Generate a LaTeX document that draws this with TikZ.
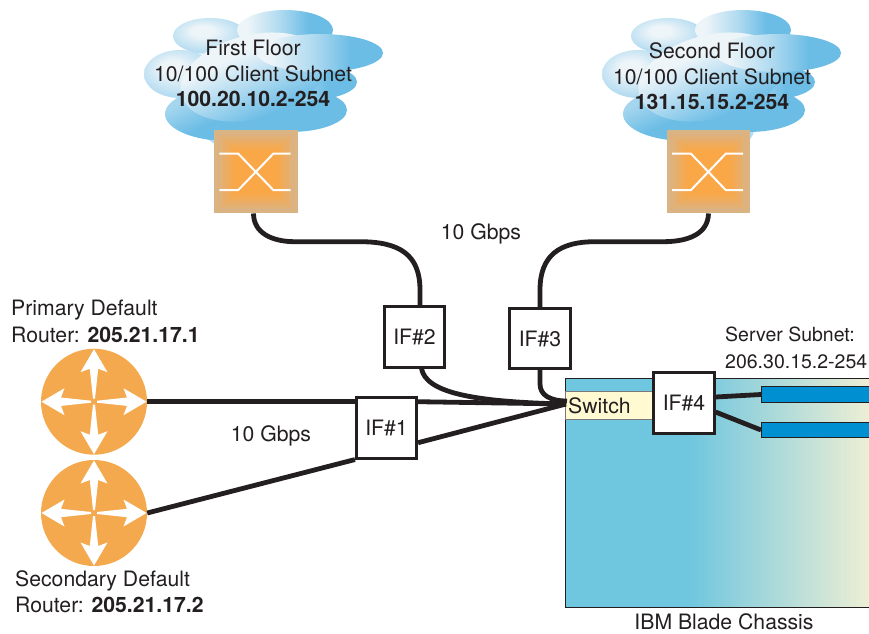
\documentclass[tikz,border=0pt]{standalone}
\usepackage{fontspec}
\setmainfont{TeX Gyre Heros}
\definecolor{ink}{HTML}{231F20}
\definecolor{cloudblue}{HTML}{6CBDE6}
\definecolor{cloudlight}{HTML}{EEF5F9}
\definecolor{tan}{HTML}{D9B485}
\definecolor{swcore}{HTML}{FAA748}
\definecolor{routerfill}{HTML}{F4A94F}
\definecolor{chassisblue}{HTML}{6EC6DF}
\definecolor{chassisbeige}{HTML}{EFEFD4}
\definecolor{bandyellow}{HTML}{FFFAD2}
\definecolor{barblue}{HTML}{0090D2}
\pgfdeclarehorizontalshading{chassisshade}{100bp}{color(0bp)=(chassisblue); color(45bp)=(chassisblue); color(75bp)=(chassisbeige); color(100bp)=(chassisbeige)}
\pgfdeclarehorizontalshading{cloudaxis}{100bp}{color(0bp)=(cloudlight); color(30bp)=(cloudlight); color(48bp)=(cloudlight!50!cloudblue); color(62bp)=(cloudblue); color(100bp)=(cloudblue)}
\pgfdeclarehorizontalshading{cloudmain}{100bp}{color(0bp)=(cloudlight); color(36bp)=(cloudlight); color(50bp)=(cloudlight!55!cloudblue); color(66bp)=(cloudblue); color(100bp)=(cloudblue)}
\pgfdeclarehorizontalshading{cloudsoft}{100bp}{color(0bp)=(cloudlight!45!cloudblue); color(30bp)=(cloudlight!45!cloudblue); color(50bp)=(cloudblue); color(100bp)=(cloudblue)}
\pgfdeclareradialshading{cloudhi}{\pgfpoint{-6bp}{8bp}}{color(0bp)=(cloudlight); color(7bp)=(cloudlight); color(40bp)=(cloudlight!25!cloudblue); color(50bp)=(cloudblue)}
\tikzset{
  x=1pt,y=-1pt,
  puff/.style={shading=cloudaxis,shading angle=0},
  puffhi/.style={shading=cloudhi},
  puffdown/.style={shading=cloudsoft,shading angle=-65},
  puffmain/.style={shading=cloudmain,shading angle=-65},
  lbl/.style={text=ink,font=\fontsize{21.2}{25}\selectfont,inner sep=0pt},
  lblleft/.style={lbl,anchor=west},
  lblsmall/.style={lblleft,font=\fontsize{19.5}{23}\selectfont},
  ifbox/.style={draw=ink,line width=2.6pt,fill=white,minimum size=60.5pt,inner sep=0pt,text=ink,font=\fontsize{21.2}{25}\selectfont},
  swbox/.style={fill=tan,minimum size=83.5pt,inner sep=0pt},
  router/.style={circle,fill=routerfill,minimum size=106pt,inner sep=0pt},
  cable/.style={draw=ink,line width=4.8pt},
  cross/.style={draw=white,line width=2pt},
  bar/.style={draw=ink,line width=0.8pt,fill=barblue,minimum height=15.5pt,minimum width=110pt,inner sep=0pt,anchor=west},
}
\newcommand{\cloudpuffs}{%
  \shade[puffhi] (250,130) ellipse [x radius=46,y radius=22];
  \shade[puffhi] (210,36) ellipse [x radius=37,y radius=18];
  \shade[puff] (285,30) ellipse [x radius=48,y radius=20];
  \shade[puffdown] (290,110) ellipse [x radius=57,y radius=22];
  \shade[puff] (300,82) ellipse [x radius=57,y radius=19];
  \shade[puffhi] (180,74) ellipse [x radius=36,y radius=24];
  \shade[puffdown] (228,114) ellipse [x radius=63,y radius=27];
  \shade[puffmain,rotate around={14:(253,77)}] (253,77) ellipse [x radius=74,y radius=42];
  \shade[puff] (320,53) ellipse [x radius=63,y radius=19];
}
\newcommand{\swcoreat}[1]{%
  \foreach \s/\m in {39/8,36/24,33/42,30/60,27/78,24/92,21/100}{
    \fill[swcore!\m!tan] ([xshift=-\s pt,yshift=-\s pt]#1.center) rectangle ([xshift=\s pt,yshift=\s pt]#1.center);
  }%
}
\newcommand{\routerarrows}[1]{%
  \foreach \a in {0,90,180,270}{
    \fill[white,shift={(#1.center)},rotate=\a] (0,-52.5) -- (13.5,-29.5) -- (4.2,-33) -- (1,-3) -- (-1,-3) -- (-4.2,-33) -- (-13.5,-29.5) -- cycle;
  }%
}
\begin{document}
\begin{tikzpicture}
\useasboundingbox (0,0) rectangle (869,633);
% clouds
\cloudpuffs
\begin{scope}[shift={(458,0)}]\cloudpuffs\end{scope}
% chassis
\node[draw=ink,line width=0.9pt,shading=chassisshade,minimum width=306pt,minimum height=229pt,inner sep=0pt] (chassis) at (718,492.5) {};
\node[draw=ink!60,line width=0.5pt,fill=bandyellow,minimum width=88pt,minimum height=28pt,inner sep=0pt] (band) at (609,405) {};
\coordinate (hub) at (566,404);
\coordinate (hubtop) at (567,401);
% nodes
\node[swbox] (sw1) at (256,171.5) {};
\node[swbox] (sw2) at (708.5,171.5) {};
\node[router] (r1) at (94,401.7) {};
\node[router] (r2) at (94,513) {};
\node[ifbox] (if1) at (386.5,428) {IF\#1};
\node[ifbox] (if2) at (414.5,337) {IF\#2};
\node[ifbox] (if3) at (540,338.5) {IF\#3};
\node[ifbox] (if4) at (684,403) {IF\#4};
\node[bar] (bar1) at (761,394.5) {};
\node[bar] (bar2) at (761,430) {};
% connectors
\draw[cable] (sw1.south) ++(-2.5,0) .. controls (253.5,233) and (272,241.7) .. (295,241.7) -- (360,241.7) .. controls (400,241.7) and (420,255) .. (420,290) -- (if2.north -| 420,0);
\draw[cable] (sw2.south) .. controls (708,233) and (690,241.7) .. (663,241.7) -- (595,241.7) .. controls (560,241.7) and (540,255) .. (540,290) -- (if3.north);
\draw[cable] (r1.east) -- (if1.west |- r1.east);
\draw[cable] (if1.east |- r1.east) -- (hub);
\draw[cable] (r2.east) -- (if1.south west);
\draw[cable] (if1.-25) -- (hub);
\draw[cable] (if2.south) ++(7,0) .. controls (426,392) and (470,402) .. (hub);
\draw[cable] (if3.south) -- ++(0,14) .. controls (540,395) and (550,401) .. (hubtop);
\draw[cable] (if4.east |- 0,397) -- (bar1.west);
\draw[cable] (if4.east |- 0,412) -- (bar2.west);
% redraw boxes above the cables
\node[ifbox] at (if1.center) {IF\#1};
\node[ifbox] at (if2.center) {IF\#2};
\node[ifbox] at (if3.center) {IF\#3};
\node[ifbox] at (if4.center) {IF\#4};
% switches
\swcoreat{sw1}
\swcoreat{sw2}
\draw[cross] (219.3,153.7) -- (238.3,153.7) -- (273.3,190) -- (290.7,190);
\draw[cross] (219.3,190) -- (238.3,190) -- (273.3,153.7) -- (290.7,153.7);
\draw[cross] (672,153.7) -- (691,153.7) -- (725.7,190) -- (743,190);
\draw[cross] (672,190) -- (691,190) -- (725.7,153.7) -- (743,153.7);
% routers
\routerarrows{r1}
\routerarrows{r2}
% texts
\node[lbl] (t1a) at (253,48) {First Floor};
\node[lbl] (t1b) at (253,74) {10/100 Client Subnet};
\node[lbl] (t1c) at (253,99) {\bfseries 100.20.10.2-254};
\node[lbl] (t2a) at (712,51) {Second Floor};
\node[lbl] (t2b) at (712,77) {10/100 Client Subnet};
\node[lbl] (t2c) at (712,102) {\bfseries 131.15.15.2-254};
\node[lbl] (g1) at (481,234) {10 Gbps};
\node[lbl] (g2) at (271,436) {10 Gbps};
\node[lblleft] (p1) at (11,310) {Primary Default};
\node[lblleft] (p2) at (11,335) {Router: \textbf{205.21.17.1}};
\node[lblleft] (s1) at (15,581) {Secondary Default};
\node[lblleft] (s2) at (15,605) {Router: \textbf{205.21.17.2}};
\node[lblsmall] (n1) at (725,334) {Server Subnet:};
\node[lblsmall] (n2) at (725,362) {206.30.15.2-254};
\node[lbl] (ch) at (724,622) {IBM Blade Chassis};
\node[lblleft] (sw) at (568,406) {Switch};
\end{tikzpicture}
\end{document}
